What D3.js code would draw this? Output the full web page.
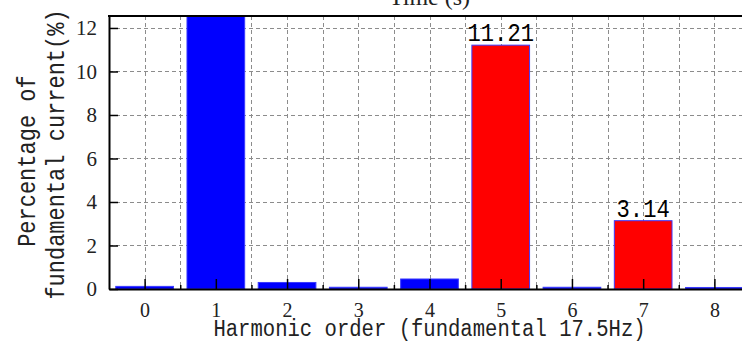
<!DOCTYPE html>
<html>
<head>
<meta charset="utf-8">
<script src="https://cdn.jsdelivr.net/npm/d3@7"></script>
<style>
  html, body { margin: 0; padding: 0; background: #fff; }
  svg { display: block; }
</style>
</head>
<body>
<svg id="chart" width="742" height="345"></svg>
<script>
// Harmonic spectrum of the phase current, in % of the fundamental
const harmonicOrders = [0, 1, 2, 3, 4, 5, 6, 7, 8];
const percentOfFundamental = [0.12, 100, 0.30, 0.08, 0.46, 11.21, 0.08, 3.14, 0.07];
const labelledOrders = [5, 7];
const yTickValues = [0, 2, 4, 6, 8, 10, 12];
const gridStepX = [0, 0.5, 1, 1.5, 2, 2.5, 3, 3.5, 4, 4.5, 5, 5.5, 6, 6.5, 7, 7.5, 8, 8.5];
const minorTickValues = [0.5, 1.5, 2.5, 3.5, 4.5, 5.5, 6.5, 7.5];

const titleText = "Time (s)";
const xLabelText = "Harmonic order (fundamental 17.5Hz)";
const yLabelLines = ["Percentage of ", "fundamental current(%)"];

const svg = d3.select("#chart");
const plotLeft = 109, plotRight = 750, plotTop = 16, plotBottom = 289;

const x = d3.scaleLinear().domain([-0.5, 8.5]).range([plotLeft, plotRight]);
const y = d3.scaleLinear().domain([0, 12.55]).range([plotBottom, plotTop]);
const unit = x(1) - x(0);
const barWidth = unit * 0.81;

const monoFont = "'Liberation Mono', 'DejaVu Sans Mono', monospace";
const serifFont = "'Liberation Serif', 'DejaVu Serif', serif";

svg.append("defs").append("clipPath").attr("id", "plot-clip")
  .append("rect").attr("x", plotLeft).attr("y", plotTop)
  .attr("width", plotRight - plotLeft).attr("height", plotBottom - plotTop);

// dashed grid
const grid = svg.append("g").attr("stroke", "#8c8c8c").attr("stroke-width", 1)
  .attr("stroke-dasharray", "4,3");
grid.selectAll("line.gx").data(gridStepX).join("line").attr("class", "gx")
  .attr("x1", d => Math.round(x(d)) + 0.5).attr("x2", d => Math.round(x(d)) + 0.5)
  .attr("y1", plotTop).attr("y2", plotBottom);
grid.selectAll("line.gy").data(yTickValues.filter(d => d > 0)).join("line").attr("class", "gy")
  .attr("x1", plotLeft).attr("x2", plotRight)
  .attr("y1", d => Math.round(y(d)) + 0.5).attr("y2", d => Math.round(y(d)) + 0.5);

// bars
const bars = harmonicOrders.map((h, i) => ({ h, v: percentOfFundamental[i] }));
svg.append("g").attr("clip-path", "url(#plot-clip)")
  .selectAll("rect").data(bars).join("rect")
  .attr("x", d => x(d.h) - barWidth / 2)
  .attr("width", barWidth)
  .attr("y", d => y(d.v))
  .attr("height", d => y(0) - y(d.v))
  .attr("fill", d => labelledOrders.includes(d.h) ? "#ff0000" : "#0000ff")
  .attr("stroke", "#3a3aff")
  .attr("stroke-width", 1);

// monospace text: font size set from the wanted advance per character,
// glyphs stretched upright to get tall narrow letters
const mono = (sel, adv) => sel
  .attr("font-family", monoFont).attr("font-size", adv / 0.6)
  .style("white-space", "pre");

// value labels
svg.append("g").selectAll("text")
  .data(bars.filter(d => labelledOrders.includes(d.h))).join("text")
  .attr("transform", d => `translate(${x(d.h)},${y(d.v) - 4}) scale(1,1.15)`)
  .attr("text-anchor", "middle").attr("fill", "#000")
  .text(d => d.v.toFixed(2))
  .call(mono, 13.3);

// axes
const xMajor = d3.axisBottom(x).tickValues(harmonicOrders).tickSize(-10).tickSizeOuter(0)
  .tickFormat(d3.format("d"));
const xMinor = d3.axisBottom(x).tickValues(minorTickValues).tickSize(-4).tickSizeOuter(0)
  .tickFormat("");
const yAxis = d3.axisLeft(y).tickValues(yTickValues).tickSize(-9).tickSizeOuter(0).tickPadding(12);

const gxMinor = svg.append("g").attr("transform", `translate(0,${plotBottom})`).call(xMinor);
gxMinor.select(".domain").remove();
gxMinor.selectAll("line").attr("stroke", "#000").attr("stroke-width", 1.5);

const gx = svg.append("g").attr("transform", `translate(0,${plotBottom})`).call(xMajor);
gx.select(".domain").attr("stroke", "#000").attr("stroke-width", 2);
gx.selectAll(".tick line").attr("stroke", "#000").attr("stroke-width", 1.5);
gx.selectAll(".tick text").attr("y", 28).attr("dy", 0)
  .attr("font-family", serifFont).attr("font-size", 20).attr("fill", "#222");

const gy = svg.append("g").attr("transform", `translate(${plotLeft},0)`).call(yAxis);
gy.select(".domain").attr("stroke", "#000").attr("stroke-width", 2);
gy.selectAll(".tick line").attr("stroke", "#000").attr("stroke-width", 1.5);
gy.selectAll(".tick text").attr("font-family", serifFont).attr("font-size", 21).attr("fill", "#222");

// top spine
svg.append("line").attr("x1", plotLeft - 1).attr("x2", plotRight)
  .attr("y1", plotTop).attr("y2", plotTop).attr("stroke", "#000").attr("stroke-width", 2);

// title (mostly above the frame)
svg.append("text").attr("x", (plotLeft + plotRight) / 2).attr("y", 5)
  .attr("text-anchor", "middle").attr("font-family", serifFont).attr("font-size", 24)
  .attr("fill", "#222").text(titleText);

// axis titles
svg.append("text")
  .attr("transform", `translate(${(plotLeft + plotRight) / 2},336) scale(1,1.15)`)
  .attr("text-anchor", "middle").attr("fill", "#222")
  .text(xLabelText).call(mono, 12.35);

const midY = (plotTop + plotBottom) / 2 + 2;
svg.append("g").selectAll("text").data(yLabelLines).join("text")
  .attr("transform", (d, i) => `translate(${35 + i * 29},${midY}) rotate(-90) scale(1,1.15)`)
  .attr("text-anchor", "middle").attr("fill", "#222")
  .text(d => d).call(mono, 13.2);
</script>
</body>
</html>
